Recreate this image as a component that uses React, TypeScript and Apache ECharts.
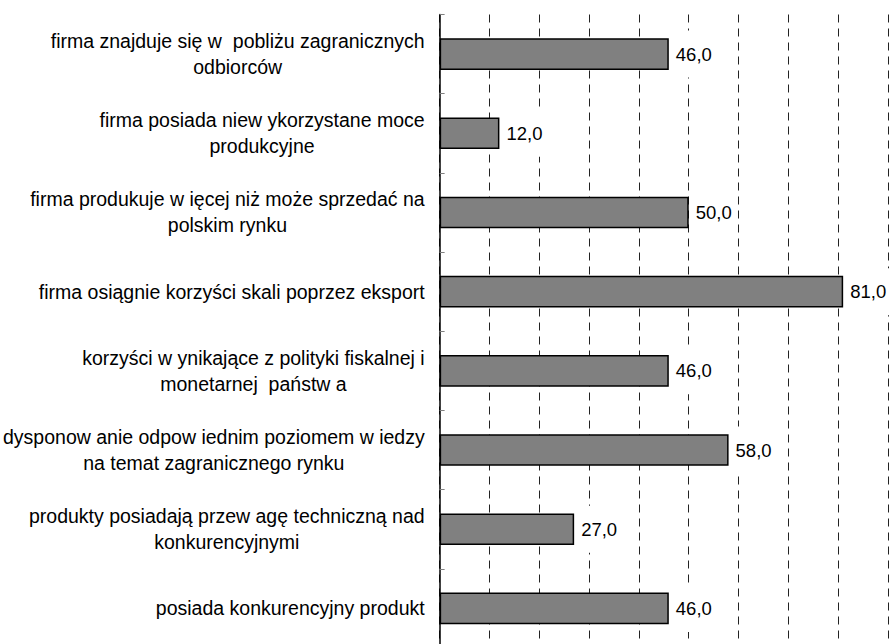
import React, { useEffect, useRef } from "react";
import * as echarts from "echarts";

const categories: string[] = [
  "firma znajduje się w  pobliżu zagranicznych\nodbiorców",
  "firma posiada niew ykorzystane moce\nprodukcyjne",
  "firma produkuje w ięcej niż może sprzedać na\npolskim rynku",
  "firma osiągnie korzyści skali poprzez eksport",
  "korzyści w ynikające z polityki fiskalnej i\nmonetarnej  państw a",
  "dysponow anie odpow iednim poziomem w iedzy\nna temat zagranicznego rynku",
  "produkty posiadają przew agę techniczną nad\nkonkurencyjnymi",
  "posiada konkurencyjny produkt",
];
const values: number[] = [46, 12, 50, 81, 46, 58, 27, 46];
const axisMin = 0;
const axisMax = 90;
const axisInterval = 10;

const FONT = "'Liberation Sans', Arial, sans-serif";

export default function App() {
  const ref = useRef<HTMLDivElement>(null);
  useEffect(() => {
    if (!ref.current) return;
    const chart = echarts.init(ref.current, undefined, { renderer: "svg" });
    chart.setOption({
      animation: false,
      backgroundColor: "#ffffff",
      grid: { left: 438, right: 2, top: 14.5, bottom: 2, containLabel: false },
      xAxis: {
        type: "value",
        min: axisMin,
        max: axisMax,
        interval: axisInterval,
        axisLine: { show: false },
        axisTick: { show: false },
        axisLabel: { show: false },
        splitLine: {
          show: true,
          lineStyle: { color: "#222", width: 1, type: [8, 6] },
        },
      },
      yAxis: {
        type: "category",
        data: categories,
        inverse: true,
        axisLine: { show: true, lineStyle: { color: "#000", width: 1.5 } },
        axisTick: {
          show: true,
          inside: true,
          length: 5,
          lineStyle: { color: "#808080", width: 1 },
        },
        splitLine: { show: false },
        axisLabel: {
          margin: 15,
          fontFamily: FONT,
          fontSize: 19.5,
          color: "#000",
          lineHeight: 26,
          formatter: (v: string) =>
            v
              .split("\n")
              .map((l) => `{c|${l}}`)
              .join("\n"),
          rich: {
            c: {
              align: "center",
              fontFamily: FONT,
              fontSize: 19.5,
              color: "#000",
              lineHeight: 26,
            },
          },
        },
      },
      series: [
        {
          type: "bar",
          data: values,
          barCategoryGap: "60%",
          itemStyle: { color: "#808080", borderColor: "#000", borderWidth: 1.5 },
          label: {
            show: true,
            position: "right",
            distance: 4,
            fontFamily: FONT,
            fontSize: 18.5,
            color: "#000",
            backgroundColor: "#ffffff",
            padding: [14, 3, 14, 3],
            formatter: (p: any) => p.value.toFixed(1).replace(".", ","),
          },
        },
      ],
    });
    return () => chart.dispose();
  }, []);
  return (
    <div
      style={{
        position: "fixed",
        left: 0,
        top: 0,
        width: 890,
        height: 644,
        overflow: "hidden",
        background: "#fff",
      }}
    >
      <div ref={ref} style={{ width: 890, height: 650 }} />
    </div>
  );
}
